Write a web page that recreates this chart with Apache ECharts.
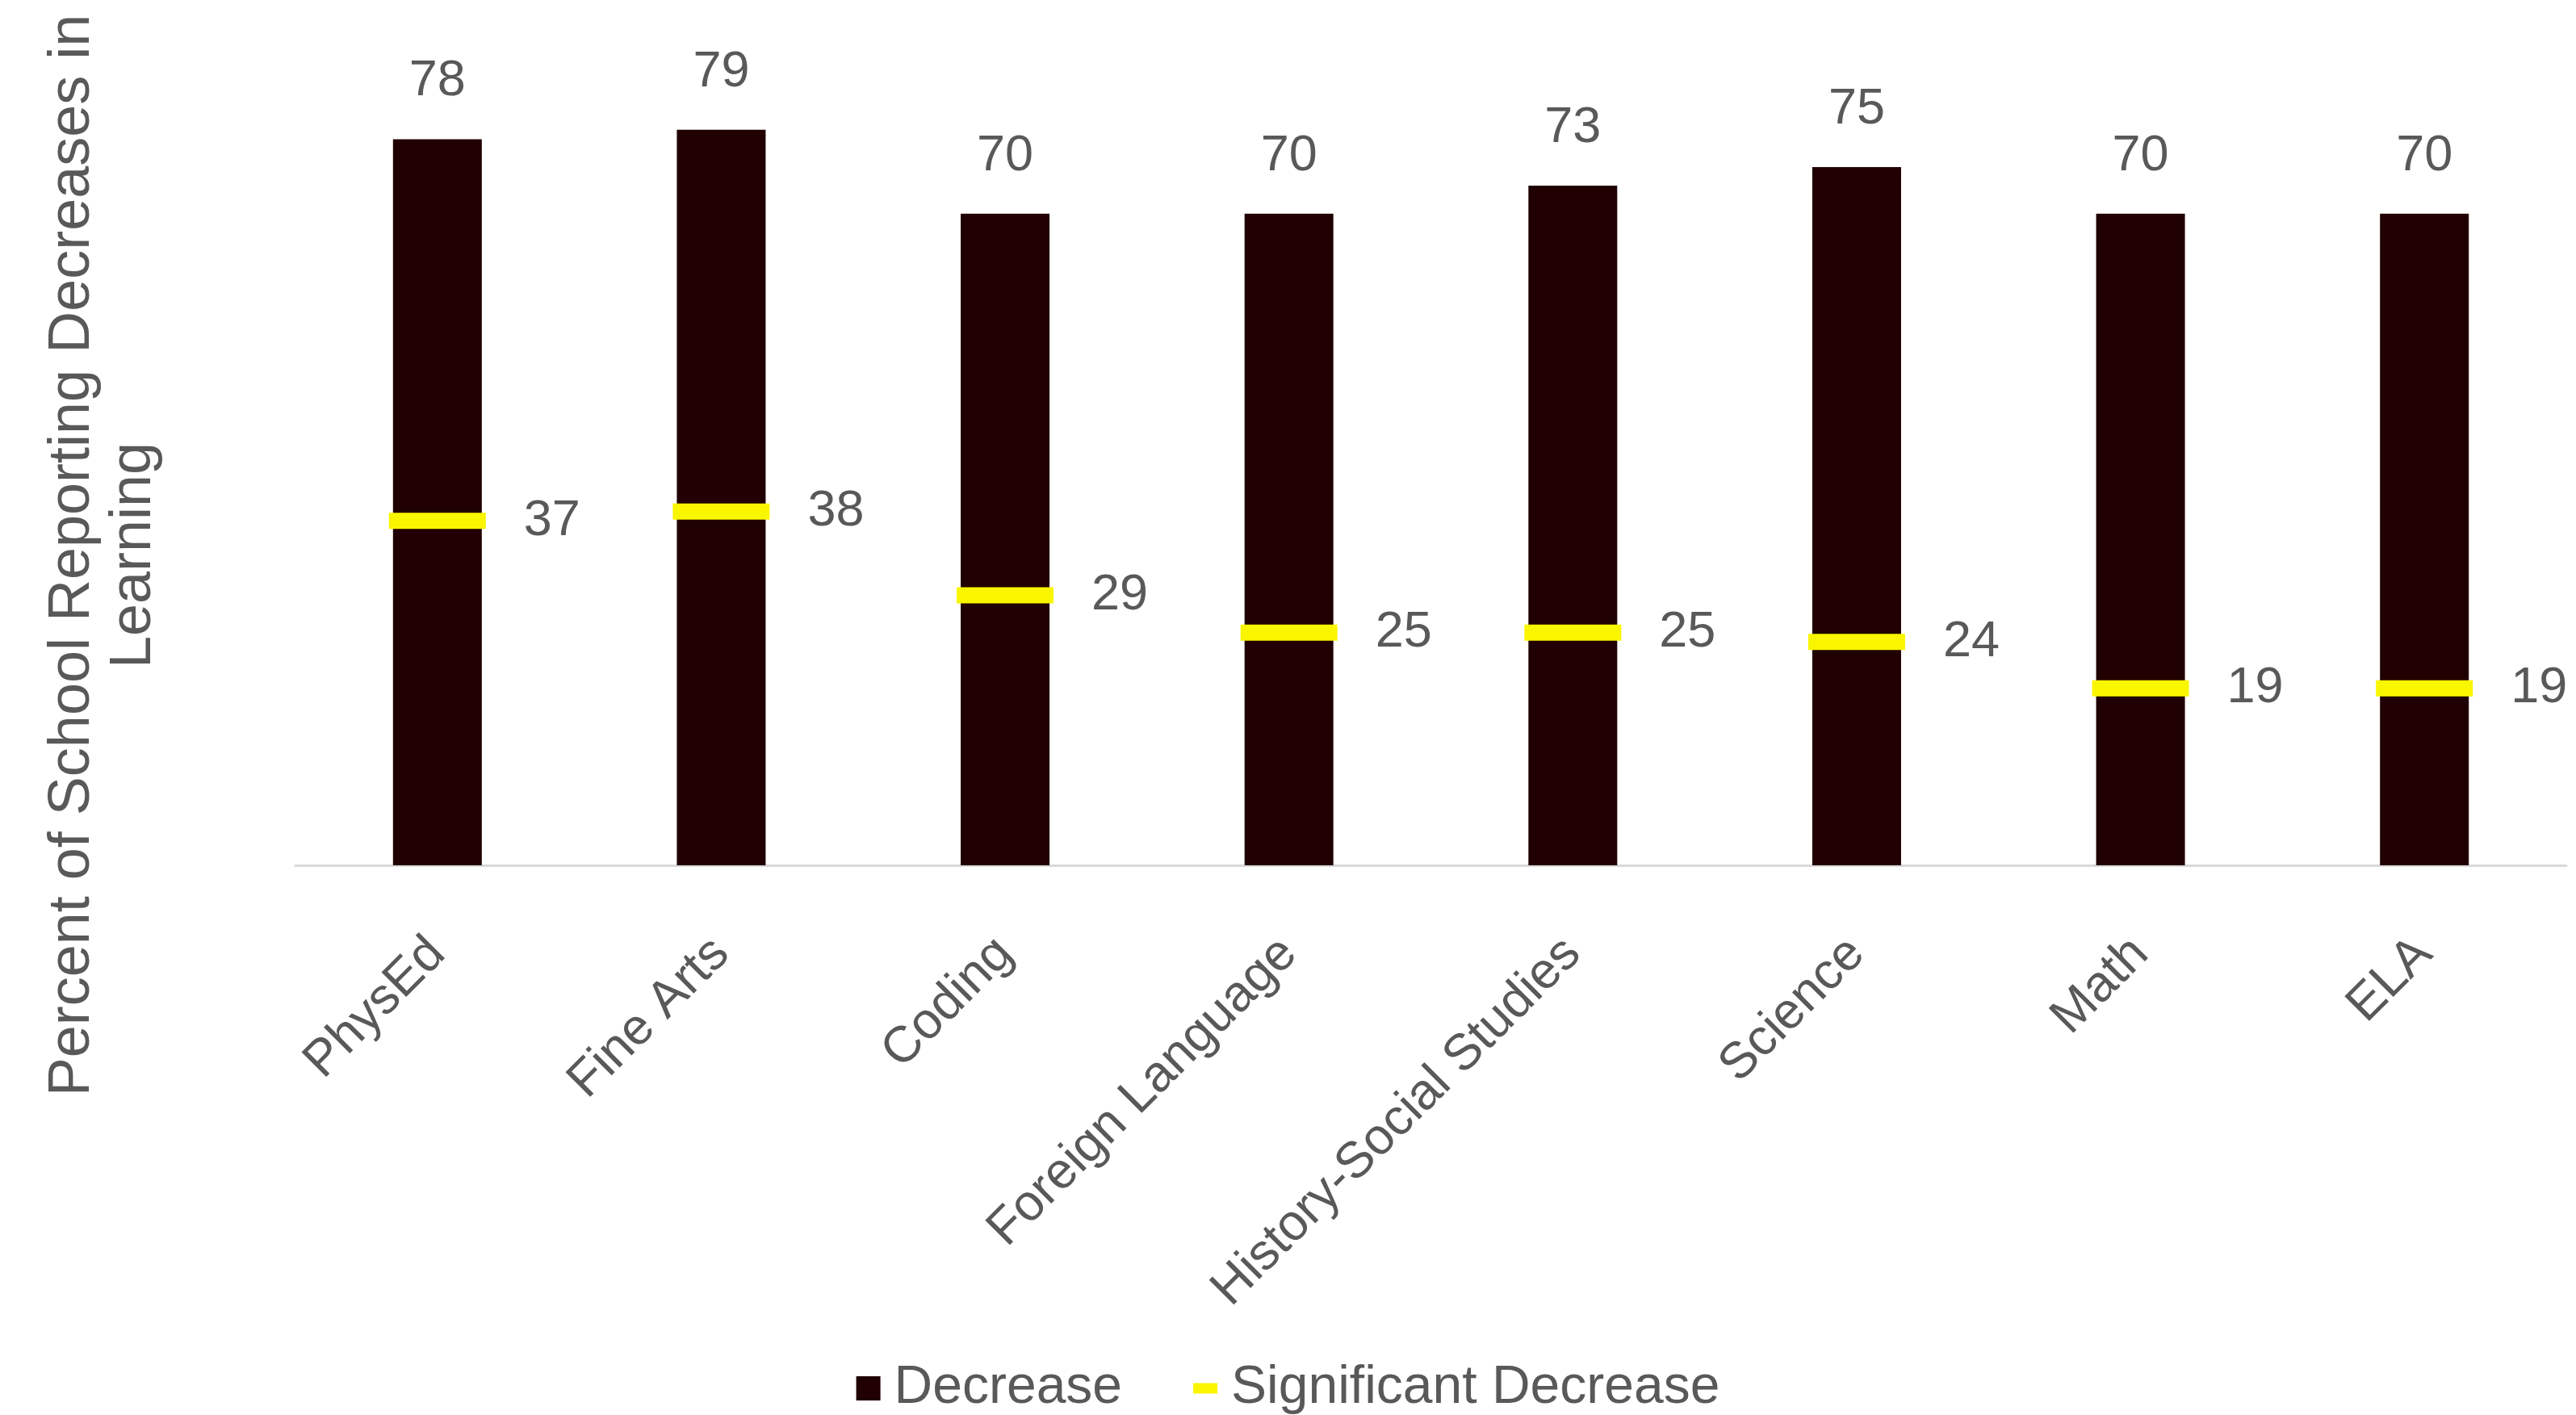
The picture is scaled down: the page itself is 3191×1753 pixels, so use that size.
<!DOCTYPE html>
<html>
<head>
<meta charset="utf-8">
<title>Decreases in Learning by Subject</title>
<script src="https://cdn.jsdelivr.net/npm/echarts@6/dist/echarts.min.js"></script>
<style>
  html, body { margin: 0; padding: 0; background: #ffffff; }
  #chart { width: 3191px; height: 1753px; }
</style>
</head>
<body>
<div id="chart"></div>
<script>
// Subjects along the x axis
const subjects = ['PhysEd', 'Fine Arts', 'Coding', 'Foreign Language', 'History-Social Studies', 'Science', 'Math', 'ELA'];
// Percent of schools reporting any decrease
const decrease = [78, 79, 70, 70, 73, 75, 70, 70];
// Percent of schools reporting a significant decrease
const significantDecrease = [37, 38, 29, 25, 25, 24, 19, 19];

const FONT = '"Liberation Sans", Arial, sans-serif';
const TEXT_GRAY = '#595959';
const BAR_COLOR = '#200000';
const MARK_COLOR = '#FAF600';

const chart = echarts.init(document.getElementById('chart'), null, { renderer: 'canvas' });

chart.setOption({
  backgroundColor: '#ffffff',
  animation: false,
  textStyle: { fontFamily: FONT },
  grid: { left: 366, right: 12, top: 34, bottom: 681, containLabel: false },
  xAxis: {
    type: 'category',
    data: subjects,
    axisLine: { show: true, lineStyle: { color: '#D9D9D9', width: 3 } },
    axisTick: { show: false },
    axisLabel: {
      rotate: 45,
      margin: 100,
      color: TEXT_GRAY,
      fontSize: 63,
      fontFamily: FONT,
      interval: 0
    }
  },
  yAxis: {
    type: 'value',
    min: 0,
    max: 90,
    axisLine: { show: false },
    axisTick: { show: false },
    axisLabel: { show: false },
    splitLine: { show: false }
  },
  legend: {
    top: 1682,
    left: 'center',
    itemGap: 88,
    itemWidth: 30,
    itemHeight: 30,
    textStyle: { color: TEXT_GRAY, fontSize: 66, fontFamily: FONT, padding: [0, 0, 0, 12] },
    data: [
      { name: 'Decrease', icon: 'rect' },
      { name: 'Significant Decrease', icon: 'path://M0,0L30,0L30,13L0,13Z' }
    ]
  },
  graphic: [
    {
      type: 'text',
      x: 128,
      y: 688,
      rotation: Math.PI / 2,
      style: {
        text: 'Percent of School Reporting Decreases in\nLearning',
        fill: TEXT_GRAY,
        font: '72px ' + FONT,
        align: 'center',
        verticalAlign: 'middle',
        lineHeight: 76
      }
    }
  ],
  series: [
    {
      name: 'Decrease',
      type: 'bar',
      data: decrease,
      barWidth: 110,
      itemStyle: { color: BAR_COLOR },
      label: {
        show: true,
        position: 'top',
        distance: 40,
        color: TEXT_GRAY,
        fontSize: 63,
        fontFamily: FONT
      },
      z: 2
    },
    {
      name: 'Significant Decrease',
      type: 'scatter',
      data: significantDecrease,
      symbol: 'rect',
      symbolSize: [120, 20],
      itemStyle: { color: MARK_COLOR, opacity: 1 },
      label: {
        show: true,
        position: 'right',
        distance: 47,
        color: TEXT_GRAY,
        fontSize: 63,
        fontFamily: FONT
      },
      emphasis: { disabled: true },
      z: 3
    }
  ]
});
</script>
</body>
</html>
